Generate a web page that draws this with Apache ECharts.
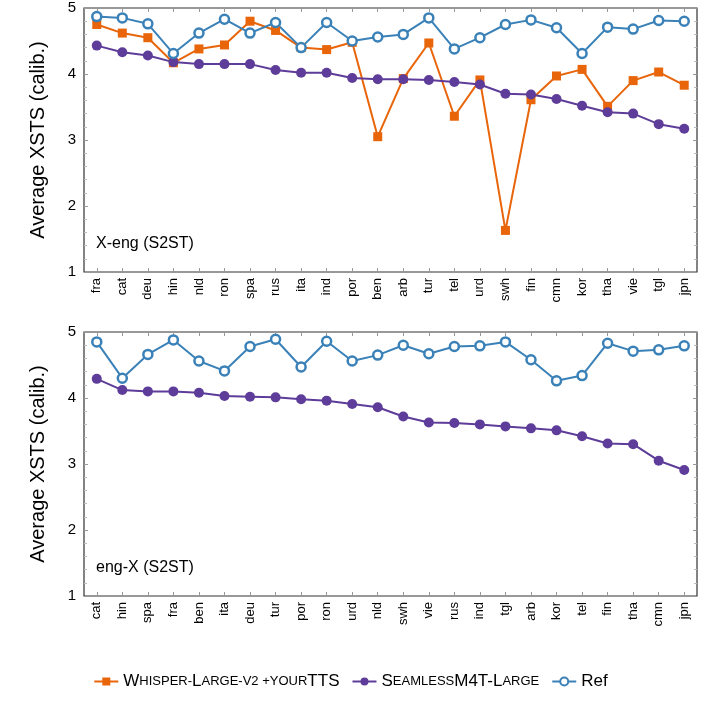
<!DOCTYPE html><html><head><meta charset="utf-8"><script src="https://cdn.jsdelivr.net/npm/echarts@6/dist/echarts.min.js"></script>
<style>html,body{margin:0;padding:0;background:#fff}#c{width:701px;height:701px}</style></head><body><div id="c"></div><script>
const catsTop=['fra','cat','deu','hin','nld','ron','spa','rus','ita','ind','por','ben','arb','tur','tel','urd','swh','fin','cmn','kor','tha','vie','tgl','jpn'];
const whisperTop=[4.75,4.62,4.55,4.17,4.38,4.44,4.80,4.66,4.40,4.37,4.48,3.05,3.93,4.47,3.36,3.91,1.63,3.61,3.97,4.07,3.51,3.90,4.03,3.83];
const seamlessTop=[4.43,4.33,4.28,4.18,4.15,4.15,4.15,4.06,4.02,4.02,3.94,3.92,3.92,3.91,3.88,3.84,3.70,3.69,3.62,3.52,3.42,3.40,3.24,3.17];
const refTop=[4.87,4.85,4.76,4.31,4.62,4.83,4.62,4.78,4.40,4.78,4.50,4.56,4.60,4.85,4.38,4.55,4.75,4.82,4.70,4.31,4.71,4.68,4.81,4.80];
const catsBot=['cat','hin','spa','fra','ben','ita','deu','tur','por','ron','urd','nld','swh','vie','rus','ind','tgl','arb','kor','tel','fin','tha','cmn','jpn'];
const seamlessBot=[4.29,4.12,4.10,4.10,4.08,4.03,4.02,4.01,3.98,3.96,3.91,3.86,3.72,3.63,3.62,3.60,3.57,3.54,3.51,3.42,3.31,3.30,3.05,2.91];
const refBot=[4.85,4.30,4.66,4.88,4.56,4.41,4.78,4.89,4.47,4.86,4.56,4.65,4.80,4.67,4.78,4.79,4.85,4.58,4.26,4.34,4.83,4.71,4.73,4.79];
const yTicks=[1,2,3,4,5];
const OR='#e8650a',PU='#5e3c99',BL='#3a81b8';
const FONT='Liberation Sans';
const ch=echarts.init(document.getElementById('c'));
function xa(gi,cats,top){return {type:'category',gridIndex:gi,data:cats,position:top?'top':'bottom',boundaryGap:true,
 axisLine:{show:false},axisTick:{show:true,alignWithLabel:true,inside:true,length:4,lineStyle:{color:'#999'}},
 minorTick:{show:false},axisLabel:{show:!top,rotate:90,fontFamily:FONT,fontSize:13,color:'#000',margin:6}};}
function ya(gi,right){return {type:'value',gridIndex:gi,min:1,max:5,interval:1,position:right?'right':'left',
 name:right?'':'Average XSTS (calib.)',nameLocation:'middle',nameGap:36,nameTextStyle:{fontFamily:FONT,fontSize:20,color:'#000'},
 axisLine:{show:false},splitLine:{show:false},axisTick:{show:true,inside:true,length:4,lineStyle:{color:'#999'}},
 minorTick:{show:true,splitNumber:5,length:3,lineStyle:{color:'#bbb'}},
 axisLabel:{show:!right,fontFamily:FONT,fontSize:15,color:'#000',margin:8,formatter:v=>yTicks.includes(v)?String(v):''}};}
function ser(name,data,xi,yi,color,sym,fill){return {name,type:'line',data,xAxisIndex:xi,yAxisIndex:yi,color,
 symbol:sym,symbolSize:sym==='rect'?9:fill?10:9,showSymbol:true,lineStyle:{width:2,color},
 itemStyle:{color:fill?color:'#fff',borderColor:color,borderWidth:fill?0:2.5},animation:false};}
ch.setOption({animation:false,
 grid:[{left:84,right:4,top:8,height:264,show:true,borderColor:'#333',borderWidth:1.2},
       {left:84,right:4,top:332,height:264,show:true,borderColor:'#333',borderWidth:1.2}],
 xAxis:[xa(0,catsTop,false),xa(0,catsTop,true),xa(1,catsBot,false),xa(1,catsBot,true)],
 yAxis:[ya(0,false),ya(0,true),ya(1,false),ya(1,true)],
 legend:{bottom:6,left:'center',itemGap:12,itemWidth:24,itemHeight:10,
  textStyle:{fontFamily:FONT,fontSize:17,color:'#000',rich:{s:{fontFamily:FONT,fontSize:13,color:'#000'},b:{fontFamily:FONT,fontSize:17,color:'#000'}}},
  formatter:n=>{if(n==='Ref')return '{b|Ref}';
   if(n.startsWith('W'))return '{b|W}{s|HISPER-}{b|L}{s|ARGE-V2 +YOUR}{b|TTS}';
   return '{b|S}{s|EAMLESS}{b|M4T-L}{s|ARGE}';},
  data:['Whisper-Large-v2 +yourTTS','SeamlessM4T-Large','Ref']},
 graphic:[{type:'text',left:96,top:236,style:{text:'X-eng (S2ST)',font:'16px "Liberation Sans"',fill:'#000'}},
          {type:'text',left:96,top:560,style:{text:'eng-X (S2ST)',font:'16px "Liberation Sans"',fill:'#000'}}],
 series:[ser('Whisper-Large-v2 +yourTTS',whisperTop,0,0,OR,'rect',true),
  ser('SeamlessM4T-Large',seamlessTop,0,0,PU,'circle',true),
  ser('Ref',refTop,0,0,BL,'circle',false),
  ser('SeamlessM4T-Large',seamlessBot,2,2,PU,'circle',true),
  ser('Ref',refBot,2,2,BL,'circle',false)]});
</script></body></html>
